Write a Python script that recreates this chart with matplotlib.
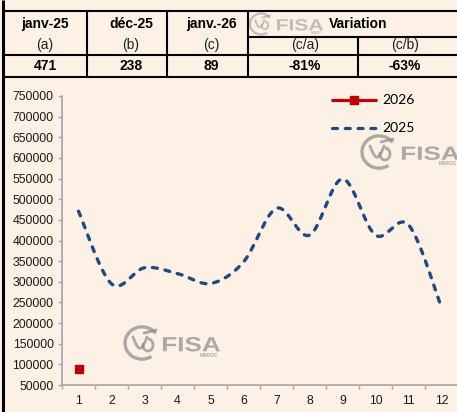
import numpy as np
import matplotlib
matplotlib.use("Agg")
import matplotlib.pyplot as plt
from matplotlib.patches import Arc, PathPatch
from matplotlib.textpath import TextPath
from matplotlib.font_manager import FontProperties
from matplotlib.transforms import Affine2D
from matplotlib.ticker import FixedLocator, NullFormatter

# ---------------- data ----------------
months = [1, 2, 3, 4, 5, 6, 7, 8, 9, 10, 11, 12]
values_2025 = [471000, 295000, 334000, 320000, 296000, 348000,
               478000, 413000, 549000, 413000, 438000, 238000]
months_2026 = [1]
values_2026 = [89000]
yticks = list(range(50000, 750001, 50000))

hdr_labels = ["janv-25", "déc-25", "janv.-26"]
sub_labels = ["(a)", "(b)", "(c)", "(c/a)", "(c/b)"]
row_values = ["471", "238", "89", "-81%", "-63%"]
variation_label = "Variation"
legend_labels = ["2026", "2025"]

# ---------------- style ----------------
BG = "#FDF0E5"
BLUE = "#1F4A84"
RED = "#C00000"
GRAY = "#A6A6A6"
W, H = 457, 412
plt.rcParams['font.family'] = ['Liberation Sans', 'DejaVu Sans']
plt.rcParams['lines.scale_dashes'] = False

fig = plt.figure(figsize=(W / 100, H / 100), dpi=100, facecolor=BG)

# overlay in pixel coords (table, border, watermarks, legend)
ov = fig.add_axes([0, 0, 1, 1], zorder=0)
ov.set_xlim(0, W)
ov.set_ylim(H, 0)
ov.axis("off")
ov.set_facecolor(BG)

BOLD = FontProperties(family="Liberation Sans", weight="bold")


def word(ax, s, x0, ybase, width, cap, color, alpha):
    tp = TextPath((0, 0), s, size=1, prop=BOLD)
    ext = tp.get_extents()
    sx = width / ext.width
    sy = cap / ext.height
    tr = Affine2D().translate(-ext.x0, 0).scale(sx, -sy).translate(x0, ybase) + ax.transData
    ax.add_patch(PathPatch(tp, transform=tr, facecolor=color, edgecolor="none", alpha=alpha))


def logo(ax, cx, cy, r, fx, fw, fcap, alpha=0.7):
    col = "#8A8A8A"
    s = r / 17
    ax.add_patch(Arc((cx, cy), 2 * r, 2 * r * 0.95, theta1=55, theta2=325,
                     color=col, lw=2.4 * s, alpha=alpha))
    t = np.linspace(0, 1, 30)
    bx = cx - 9 * s + 14 * s * t
    by = cy - 6 * s + 14 * s * np.sin(np.pi * t) * 0.8
    ax.plot(bx, by, color=col, lw=2.0 * s, alpha=alpha, solid_capstyle="round")
    ax.add_patch(Arc((cx + 6 * s, cy + 2 * s), 10 * s, 12 * s, theta1=-90, theta2=200,
                     color=col, lw=2.0 * s, alpha=alpha))
    ax.plot([cx + 2 * s, cx + 14 * s], [cy - 10 * s, cy - 13 * s], color=col,
            lw=2.0 * s, alpha=alpha, solid_capstyle="round")
    ybase = cy + fcap / 2 + 1 * s
    word(ax, "FISA", fx, ybase, fw, fcap, col, alpha)
    ax.text(fx + fw - 2 * s, ybase + 4 * s, "MAROC", fontsize=3.4 * s, fontweight="bold",
            color=col, alpha=alpha, ha="right", va="center")


logo(ov, 261, 24, 11, 277, 46, 11.5, alpha=0.5)
logo(ov, 379, 152, 17, 402, 57, 13.5)
logo(ov, 142, 343, 17, 163, 57, 14.5)

# left border
ov.plot([3, 3], [0, H], color="black", lw=2.2, solid_capstyle="butt")
# table lines
lw = 1.5
for y, x0 in [(11, 3), (37, 248), (55, 3), (77, 3)]:
    ov.plot([x0, W], [y, y], color="black", lw=lw, solid_capstyle="butt")
for x, y0 in [(87, 11), (167, 11), (248, 11), (358, 37)]:
    ov.plot([x, x], [y0, 77], color="black", lw=lw, solid_capstyle="butt")

hx = [45, 131, 211]
for x, t in zip(hx, hdr_labels):
    ov.text(x, 24, t, fontsize=10, fontweight="bold", ha="center", va="center")
ov.text(358, 24, variation_label, fontsize=10, fontweight="bold", ha="center", va="center")
sx = [45, 131, 211, 305, 405]
for x, t in zip(sx, sub_labels):
    ov.text(x, 45, t, fontsize=10, ha="center", va="center", color="#202020")
for x, t in zip(sx, row_values):
    ov.text(x, 66, t, fontsize=10, fontweight="bold", ha="center", va="center")

# legend drawn manually
ov.plot([331, 377], [100, 100], color=RED, lw=2.3, solid_capstyle="butt")
ov.plot([354], [100], color=RED, marker="s", markersize=6)
ov.text(382, 100, legend_labels[0], fontsize=10, family="Lato", ha="left", va="center")
ov.plot([332, 377], [128, 128], color=BLUE, lw=2.3, dashes=(3.6, 5.6), dash_capstyle="round")
ov.text(382, 128, legend_labels[1], fontsize=10, family="Lato", ha="left", va="center")

# ---------------- chart ----------------
left, bottom = 62 / W, (H - 385) / H
ax = fig.add_axes([left, bottom, 396 / W, 289 / H], zorder=1)
ax.patch.set_alpha(0)
ax.set_xlim(0.5, 12.5)
ax.set_ylim(50000, 750000)


def smooth(xs, ys, n=30):
    x = np.asarray(xs, float)
    y = np.asarray(ys, float)
    P = np.column_stack([x, y])
    P = np.vstack([P[0], P, P[-1]])
    out = []
    for i in range(1, len(P) - 2):
        p0, p1, p2, p3 = P[i - 1], P[i], P[i + 1], P[i + 2]
        c1 = p1 + (p2 - p0) / 6
        c2 = p2 - (p3 - p1) / 6
        t = np.linspace(0, 1, n)[:, None]
        seg = ((1 - t) ** 3) * p1 + 3 * ((1 - t) ** 2) * t * c1 + 3 * (1 - t) * t ** 2 * c2 + t ** 3 * p2
        out.append(seg if i == 1 else seg[1:])
    out = np.vstack(out)
    return out[:, 0], out[:, 1]


sx_, sy_ = smooth(months, values_2025)
ax.plot(sx_, sy_, color=BLUE, lw=2.4, dashes=(3.6, 5.6), dash_capstyle="round")
ax.plot(months_2026, values_2026, color=RED, lw=2.3, marker="s", markersize=6)

for s in ["top", "right"]:
    ax.spines[s].set_visible(False)
for s in ["left", "bottom"]:
    ax.spines[s].set_color(GRAY)
    ax.spines[s].set_linewidth(1.2)

ax.set_yticks(yticks)
ax.set_yticklabels([str(v) for v in yticks], fontsize=8.8, color="#1a1a1a")
ax.tick_params(axis="y", length=3, color=GRAY, width=1, pad=3)

ax.xaxis.set_major_locator(FixedLocator(np.arange(0.5, 12.6, 1)))
ax.xaxis.set_major_formatter(NullFormatter())
ax.xaxis.set_minor_locator(FixedLocator(months))
ax.set_xticklabels([str(m) for m in months], minor=True, fontsize=8.8, color="#1a1a1a")
ax.tick_params(axis="x", which="major", length=3, color=GRAY, width=1)
ax.tick_params(axis="x", which="minor", length=0, pad=7)

fig.savefig("out.png", dpi=100, facecolor=BG)
